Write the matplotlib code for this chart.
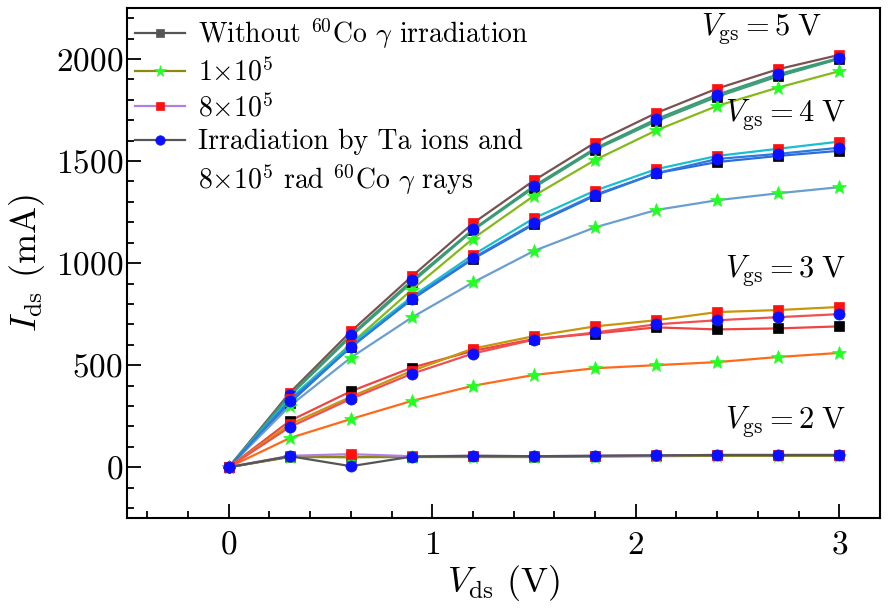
import numpy as np
import matplotlib
matplotlib.use("Agg")
import matplotlib.pyplot as plt
from matplotlib.ticker import MultipleLocator

plt.rcParams["font.family"] = "serif"
plt.rcParams["font.serif"] = ["cmr10"]
plt.rcParams["mathtext.fontset"] = "cm"
plt.rcParams["axes.unicode_minus"] = False
plt.rcParams["axes.formatter.use_mathtext"] = True

# ---------------------------------------------------------
# data
# ---------------------------------------------------------
vds = [0, 0.3, 0.6, 0.9, 1.2, 1.5, 1.8, 2.1, 2.4, 2.7, 3.0]

# Vgs = 5 V
v5_without = [0, 350, 640, 905, 1160, 1370, 1555, 1695, 1815, 1915, 2000]
v5_1e5     = [0, 330, 605, 870, 1120, 1330, 1505, 1650, 1770, 1860, 1940]
v5_8e5     = [0, 365, 665, 935, 1195, 1405, 1590, 1735, 1855, 1950, 2020]
v5_ta      = [0, 355, 648, 915, 1165, 1378, 1562, 1705, 1825, 1925, 2005]

# Vgs = 4 V
v4_without = [0, 315, 590, 822, 1020, 1190, 1330, 1440, 1495, 1525, 1550]
v4_1e5     = [0, 300, 537, 734, 905, 1060, 1175, 1260, 1308, 1342, 1372]
v4_8e5     = [0, 335, 600, 835, 1040, 1220, 1355, 1460, 1525, 1560, 1595]
v4_ta      = [0, 325, 587, 825, 1025, 1195, 1335, 1440, 1510, 1535, 1565]

# Vgs = 3 V
v3_without = [0, 227, 372, 488, 570, 628, 655, 685, 675, 680, 690]
v3_1e5     = [0, 143, 236, 325, 399, 452, 485, 500, 515, 540, 560]
v3_8e5     = [0, 210, 345, 472, 581, 642, 690, 720, 760, 770, 785]
v3_ta      = [0, 197, 335, 458, 557, 625, 660, 700, 720, 735, 750]

# Vgs = 2 V
v2_without = [0, 52, 50, 52, 54, 52, 55, 56, 58, 58, 58]
v2_1e5     = [0, 50, 49, 50, 50, 50, 52, 54, 56, 56, 56]
v2_8e5     = [0, 56, 64, 54, 56, 54, 56, 58, 60, 60, 60]
v2_ta      = [0, 54, 5, 52, 56, 54, 56, 58, 60, 60, 60]

labels = [
    r"Without $^{60}$Co $\gamma$ irradiation",
    r"$1{\times}10^{5}$",
    r"$8{\times}10^{5}$",
    "Irradiation by Ta ions and",
]

groups = [
    # (without, 1e5, 8e5, ta), line colours
    ((v5_without, v5_1e5, v5_8e5, v5_ta), ("#3f9f73", "#86b818", "#7a5050", "#3a9a78")),
    ((v4_without, v4_1e5, v4_8e5, v4_ta), ("#2a6fd8", "#6a9ed0", "#17bfcf", "#2f78e0")),
    ((v3_without, v3_1e5, v3_8e5, v3_ta), ("#ee4444", "#ff6a1a", "#c8960a", "#f05050")),
    ((v2_without, v2_1e5, v2_8e5, v2_ta), ("#555555", "#8a8a10", "#b080e0", "#555555")),
]

markers = [("s", "black", 7), ("*", "#22ff22", 10), ("s", "#ff1010", 7), ("o", "#0a10ff", 8)]

# ---------------------------------------------------------
# plot
# ---------------------------------------------------------
fig = plt.figure(figsize=(8.88, 6.09), dpi=100)
ax = fig.add_axes([0.143, 0.149, 0.848, 0.838])

handles = []
for gi, (series, colors) in enumerate(groups):
    for si in range(4):
        m, mc, ms = markers[si]
        if gi == 3 and si == 0:
            mc = "#555555"
        h, = ax.plot(vds, series[si], color=colors[si], lw=1.6,
                     marker=m, ms=ms, mfc=mc, mec=mc, mew=0.5)
        if gi == 3:
            handles.append(h)

# blank handle for the second line of the last label
blank, = ax.plot([], [], color="none")
leg = ax.legend(handles + [blank],
                labels + [r"$8{\times}10^{5}$ rad $^{60}$Co $\gamma$ rays"],
                loc="upper left", frameon=False, fontsize=20,
                handlelength=1.8, handletextpad=0.45, labelspacing=0.25,
                borderpad=0.1, borderaxespad=0.2, bbox_to_anchor=(0.0, 1.0),
                markerscale=0.85)

tkw = dict(fontsize=22, ha="right", va="center")
ax.text(2.91, 2150, r"$V_{\rm gs} = 5\;\rm V$", **tkw)
ax.text(3.03, 1730, r"$V_{\rm gs} = 4\;\rm V$", **tkw)
ax.text(3.03, 962, r"$V_{\rm gs} = 3\;\rm V$", **tkw)
ax.text(3.03, 222, r"$V_{\rm gs} = 2\;\rm V$", **tkw)

ax.set_xlim(-0.5, 3.2)
ax.set_ylim(-250, 2250)
ax.xaxis.set_major_locator(MultipleLocator(1))
ax.xaxis.set_minor_locator(MultipleLocator(0.2))
ax.yaxis.set_major_locator(MultipleLocator(500))
ax.yaxis.set_minor_locator(MultipleLocator(100))
ax.tick_params(which="both", direction="in", top=False, right=False,
               labelsize=24, width=1.3)
ax.tick_params(which="major", length=10)
ax.tick_params(which="minor", length=5)
ax.tick_params(axis="x", which="major", pad=9)
ax.tick_params(axis="y", which="major", pad=3)
for s in ax.spines.values():
    s.set_linewidth(1.5)

ax.set_xlabel(r"$V_{\rm ds}$ (V)", fontsize=26, labelpad=2)
ax.set_ylabel(r"$I_{\rm ds}$ (mA)", fontsize=26, labelpad=6)

plt.savefig("out.png", dpi=100)
plt.close()
